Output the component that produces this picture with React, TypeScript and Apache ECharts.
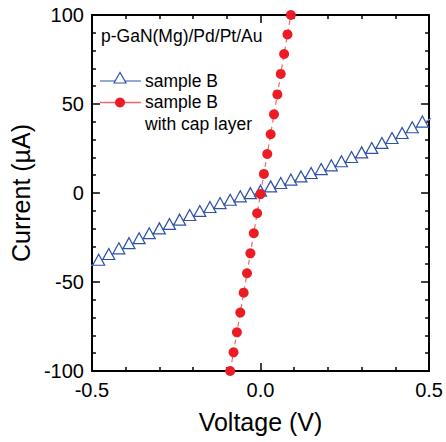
import React, { useEffect, useRef } from "react";
import * as echarts from "echarts";

const FONT = '"Liberation Sans", Arial, Helvetica, sans-serif';

// Sample B (triangles): voltage (V) and current (µA)
const sampleBVoltage = [
  -0.51, -0.48, -0.45, -0.42, -0.39, -0.36, -0.33, -0.30, -0.27, -0.24, -0.21, -0.18,
  -0.15, -0.12, -0.09, -0.06, -0.03, 0.0, 0.03, 0.06, 0.09, 0.12, 0.15, 0.18, 0.21,
  0.24, 0.27, 0.30, 0.33, 0.36, 0.39, 0.42, 0.45, 0.48, 0.51,
];
const sampleBCurrent = [
  -41.5, -38.6, -35.4, -32.2, -29.3, -26.5, -23.7, -21.0, -18.5, -16.1, -13.5, -11.2,
  -9.0, -6.8, -4.9, -3.0, -1.2, 0.2, 2.6, 4.5, 6.4, 8.2, 10.1, 12.3, 14.4,
  16.7, 19.1, 21.7, 24.2, 27.0, 29.8, 32.6, 35.8, 39.0, 42.3,
];

// Sample B with cap layer (circles)
const capVoltage = [
  -0.09, -0.08, -0.07, -0.06, -0.05, -0.04, -0.03, -0.02, -0.01, 0.0, 0.01, 0.02,
  0.03, 0.04, 0.05, 0.06, 0.07, 0.08, 0.09,
];
const capCurrent = [
  -100, -89.5, -78.3, -67.2, -56.0, -45.1, -33.9, -22.6, -11.4, -0.6, 10.7, 21.9,
  33.0, 44.2, 55.4, 66.9, 78.1, 89.1, 100,
];

const xTicks = [-0.5, 0.0, 0.5];
const yTicks = [-100, -50, 0, 50, 100];

const seriesNames = ["sample B", "sample B"];
const capNote = "with cap layer";
const sampleLabel = "p-GaN(Mg)/Pd/Pt/Au";
const xTitle = "Voltage (V)";
const yTitle = "Current (\u00b5A)";

const BLUE = "#2f52a8";
const BLUE_LINE = "#6f8cd0";
const RED = "#ec1c24";
const RED_LINE = "#f06a6a";

export default function App() {
  const ref = useRef<HTMLDivElement>(null);

  useEffect(() => {
    if (!ref.current) return;
    const chart = echarts.init(ref.current, undefined, { renderer: "svg" });

    const axisLine = { show: true, onZero: false, lineStyle: { color: "#000", width: 2 } };
    const axisTick = { show: true, inside: true, length: 8, lineStyle: { color: "#000", width: 1.5 } };
    const minorTick = { show: true, splitNumber: 5, length: 4, lineStyle: { color: "#000", width: 1.5 } };

    const xBase = {
      type: "value" as const,
      min: xTicks[0],
      max: xTicks[xTicks.length - 1],
      interval: 0.5,
      axisLine,
      axisTick,
      minorTick,
      splitLine: { show: false },
    };
    const yBase = {
      type: "value" as const,
      min: yTicks[0],
      max: yTicks[yTicks.length - 1],
      interval: 50,
      axisLine,
      axisTick,
      minorTick,
      splitLine: { show: false },
    };

    chart.setOption({
      animation: false,
      backgroundColor: "#fff",
      grid: { left: 90, right: 14, top: 15, bottom: 71, containLabel: false },
      xAxis: [
        {
          ...xBase,
          position: "bottom",
          name: xTitle,
          nameLocation: "middle",
          nameGap: 38,
          nameTextStyle: { fontFamily: FONT, fontSize: 25, color: "#000" },
          axisLabel: {
            show: true,
            margin: 9,
            fontFamily: FONT,
            fontSize: 20,
            color: "#000",
            formatter: (v: number) => v.toFixed(1),
          },
        },
        { ...xBase, position: "top", axisLabel: { show: false } },
      ],
      yAxis: [
        {
          ...yBase,
          position: "left",
          name: yTitle,
          nameLocation: "middle",
          nameGap: 54,
          nameRotate: 90,
          nameTextStyle: { fontFamily: FONT, fontSize: 25, color: "#000" },
          axisLabel: { show: true, margin: 8, fontFamily: FONT, fontSize: 20, color: "#000" },
        },
        { ...yBase, position: "right", axisLabel: { show: false } },
      ],
      series: [
        {
          name: seriesNames[0],
          type: "line",
          data: sampleBVoltage.map((v, i) => [v, sampleBCurrent[i]]),
          symbol: "triangle",
          symbolSize: [12, 11],
          symbolOffset: [0, -2],
          showAllSymbol: true,
          clip: true,
          lineStyle: { color: BLUE_LINE, width: 1.2 },
          itemStyle: { color: "#fff", borderColor: BLUE, borderWidth: 1.2 },
          z: 2,
        },
        {
          name: seriesNames[1],
          type: "line",
          data: capVoltage.map((v, i) => [v, capCurrent[i]]),
          symbol: "circle",
          symbolSize: 10,
          showAllSymbol: true,
          clip: true,
          lineStyle: { color: RED_LINE, width: 1.2, type: [5, 4] },
          itemStyle: { color: RED, borderWidth: 0 },
          z: 3,
        },
      ],
      graphic: [
        {
          type: "text",
          left: 101,
          top: 27,
          style: { text: sampleLabel, fontFamily: FONT, fontSize: 17.5, fill: "#000" },
        },
        {
          type: "line",
          shape: { x1: 100, y1: 81, x2: 141, y2: 81 },
          style: { stroke: BLUE_LINE, lineWidth: 1.5 },
        },
        {
          type: "polygon",
          shape: { points: [[114, 83], [120, 72.5], [126, 83]] },
          style: { fill: "#fff", stroke: BLUE, lineWidth: 1.2 },
        },
        {
          type: "text",
          left: 145,
          top: 72,
          style: { text: seriesNames[0], fontFamily: FONT, fontSize: 17.5, fill: "#000" },
        },
        {
          type: "line",
          shape: { x1: 100, y1: 102.5, x2: 141, y2: 102.5 },
          style: { stroke: RED_LINE, lineWidth: 1.5 },
        },
        {
          type: "circle",
          shape: { cx: 120, cy: 102.5, r: 5 },
          style: { fill: RED },
        },
        {
          type: "text",
          left: 145,
          top: 93,
          style: { text: seriesNames[1], fontFamily: FONT, fontSize: 17.5, fill: "#000" },
        },
        {
          type: "text",
          left: 145,
          top: 115,
          style: { text: capNote, fontFamily: FONT, fontSize: 17.5, fill: "#000" },
        },
      ],
    });

    return () => chart.dispose();
  }, []);

  return (
    <div
      ref={ref}
      style={{ position: "fixed", left: 0, top: 0, width: 446, height: 442, background: "#fff" }}
    />
  );
}
